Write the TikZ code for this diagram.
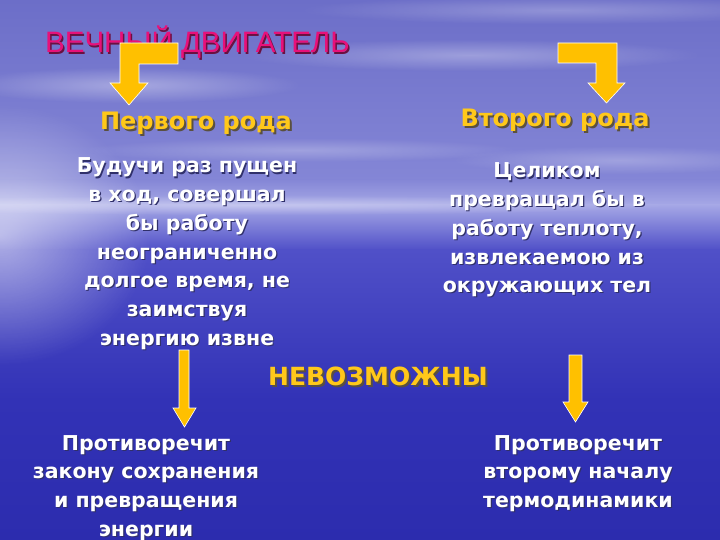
\documentclass[tikz,border=0pt]{standalone}
\usepackage{fontspec}
\setmainfont{DejaVu Sans}
\newfontfamily\titlefont{Liberation Sans}
\usetikzlibrary{fadings}
\tikzfading[name=glowfade, inner color=transparent!0, outer color=transparent!100]
\definecolor{skytop}{HTML}{6C6EC8}
\definecolor{skymid}{HTML}{8486D6}
\definecolor{horizon}{HTML}{A6A8E6}
\definecolor{waterhi}{HTML}{5050C8}
\definecolor{watermid}{HTML}{3232B6}
\definecolor{waterlow}{HTML}{2C2CAE}
\definecolor{titlemag}{HTML}{E8107A}
\definecolor{titleshade}{HTML}{6A1040}
\definecolor{goldtext}{HTML}{FFC81A}
\definecolor{goldshade}{HTML}{5A5040}
\definecolor{arrowgold}{HTML}{FFC000}
\definecolor{whiteshade}{HTML}{30306A}
\newcommand\shadowed[3]{\leavevmode\rlap{\kern#1\raisebox{-#1}{\color{#2}#3}}#3}
\newcommand\linesblock[1]{\begin{tabular}[t]{@{}c@{}}#1\end{tabular}}
\tikzset{
  titletext/.style={inner sep=0pt, text=titlemag, font=\titlefont\fontsize{29.5}{32}\selectfont},
  goldhead/.style={inner sep=0pt, text=goldtext, font=\bfseries\fontsize{24}{27}\selectfont},
  bodytext/.style={inner sep=0pt, text=white, font=\bfseries\fontsize{20.5}{28.7}\selectfont},
  imposs/.style={inner sep=0pt, text=goldtext, font=\bfseries\fontsize{25}{28}\selectfont},
  blockarrow/.style={fill=arrowgold, draw=white, line width=0.6pt, line join=miter},
  cloud/.style={white, path fading=glowfade}
}
\begin{document}
\begin{tikzpicture}[x=1pt,y=-1pt]
\useasboundingbox (0,0) rectangle (720,540);
% background
\fill[top color=skytop, bottom color=skymid] (0,0) rectangle (720,180);
\fill[top color=skymid, bottom color=horizon] (0,179.5) rectangle (720,205);
\fill[top color=horizon, bottom color=waterhi] (0,204.5) rectangle (720,250);
\fill[top color=waterhi, bottom color=watermid] (0,249.5) rectangle (720,400);
\fill[top color=watermid, bottom color=waterlow] (0,399.5) rectangle (720,540);
% clouds and glow
\fill[cloud, opacity=0.35] (130,85) ellipse [x radius=170, y radius=18];
\fill[cloud, opacity=0.30] (470,55) ellipse [x radius=230, y radius=16];
\fill[cloud, opacity=0.25] (620,160) ellipse [x radius=170, y radius=14];
\fill[cloud, opacity=0.25] (300,150) ellipse [x radius=220, y radius=12];
\fill[cloud, opacity=0.25] (560,10) ellipse [x radius=260, y radius=14];
\fill[cloud, opacity=0.35] (250,205) ellipse [x radius=420, y radius=10];
\fill[cloud, opacity=0.55] (0,235) ellipse [x radius=150, y radius=130];
% title
\node[titletext, anchor=base west] (title) at (45,53)
  {\shadowed{1.5pt}{titleshade}{ВЕЧНЫЙ ДВИГАТЕЛЬ}};
% elbow arrows
\fill[blockarrow] (178,43) -- (120,43) -- (120,83) -- (110,83) -- (129,105)
  -- (148,83) -- (139,83) -- (139,64) -- (178,64) -- cycle;
\draw[blockarrow] (558,43) -- (617,43) -- (617,83) -- (625,83) -- (606.5,103)
  -- (588,83) -- (596,83) -- (596,63) -- (558,63) -- cycle;
% headings
\node[goldhead, anchor=base] (first) at (196,130)
  {\shadowed{2pt}{goldshade}{Первого рода}};
\node[goldhead, anchor=base] (second) at (555,127)
  {\shadowed{2pt}{goldshade}{Второго рода}};
% body texts
\node[bodytext, anchor=base] (firstdesc) at (187,173)
  {\shadowed{1.2pt}{whiteshade}{\linesblock{Будучи раз пущен\\в ход, совершал\\бы работу\\неограниченно\\долгое время, не\\заимствуя\\энергию извне}}};
\node[bodytext, anchor=base] (seconddesc) at (547,178)
  {\shadowed{1.2pt}{whiteshade}{\linesblock{Целиком\\превращал бы в\\работу теплоту,\\извлекаемою из\\окружающих тел}}};
\node[imposs, anchor=base] (imp) at (378,385)
  {\shadowed{2pt}{goldshade}{НЕВОЗМОЖНЫ}};
% down arrows
\draw[blockarrow] (179,350) -- (189,350) -- (189,408) -- (196,408) -- (184.5,427)
  -- (173,408) -- (179,408) -- cycle;
\draw[blockarrow] (569,355) -- (582,355) -- (582,402) -- (588,402) -- (575.5,422)
  -- (563,402) -- (569,402) -- cycle;
% consequences
\node[bodytext, anchor=base] (firstres) at (146,450)
  {\shadowed{1.2pt}{whiteshade}{\linesblock{Противоречит\\закону сохранения\\и превращения\\энергии}}};
\node[bodytext, anchor=base] (secondres) at (578,450)
  {\shadowed{1.2pt}{whiteshade}{\linesblock{Противоречит\\второму началу\\термодинамики}}};
\end{tikzpicture}
\end{document}
